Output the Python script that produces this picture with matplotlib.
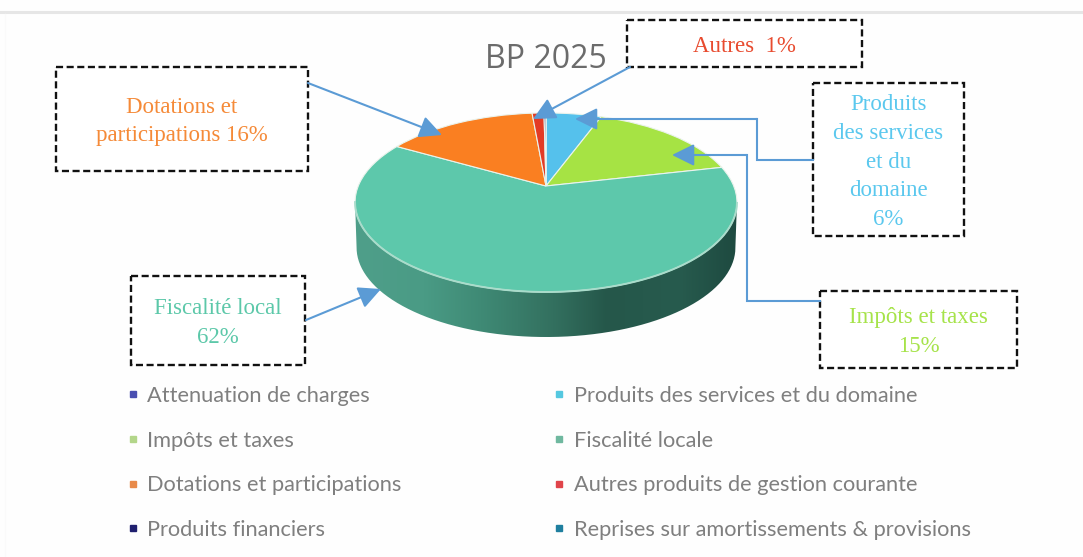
import numpy as np
import matplotlib
matplotlib.use("Agg")
import matplotlib.pyplot as plt
from matplotlib.colors import LinearSegmentedColormap
from matplotlib.lines import Line2D
from matplotlib.patches import PathPatch, Rectangle
from matplotlib.path import Path
from matplotlib.transforms import Transform

# ---- data -------------------------------------------------------------
categories = ["Attenuation de charges", "Produits des services et du domaine",
              "Impôts et taxes", "Fiscalité locale", "Dotations et participations",
              "Autres produits de gestion courante", "Produits financiers",
              "Reprises sur amortissements & provisions"]
values = [0.0, 5.6, 15.8, 61.9, 15.3, 1.2, 0.2, 0.0]
wedge_colors = ["#4A4FB0", "#55C1EC", "#A6E344", "#5DC8AB", "#FA7F21", "#E33B25", "#1F1F6E", "#1F7F9F"]
legend_colors = ["#4A4FB0", "#55C8E0", "#B3D68A", "#6FB89F", "#E88A4A", "#E0444A", "#1F1F6E", "#1F7F9F"]
title = "BP 2025"
callouts = [
    ("Dotations et\nparticipations 16%", (56, 67, 308, 171), "#F58A38", [(308, 83), (442, 135)]),
    ("Autres  1%", (627, 20, 862, 67), "#E84B2F", [(630, 67), (533, 119)]),
    ("Produits\ndes services\net du\ndomaine\n6%", (813, 83, 964, 236), "#5BC8EE",
     [(813, 160), (757, 160), (757, 119), (575, 119)]),
    ("Impôts et taxes\n15%", (820, 291, 1017, 368), "#A6E34A",
     [(820, 301), (746.5, 301), (746.5, 155), (672, 155)]),
    ("Fiscalité local\n62%", (131, 276, 305, 365), "#5CC8A9", [(306, 320), (381, 289)]),
]

W, H = 1083, 557
fig = plt.figure(figsize=(W / 100, H / 100), dpi=100, facecolor="#FEFEFE")
ax = fig.add_axes([0, 0, 1, 1])


def set_pixel_view():
    ax.set_aspect("auto")
    ax.set_xlim(0, W)
    ax.set_ylim(H, 0)
    ax.axis("off")


class Perspective(Transform):
    """Tilted-disc projection of the unit-circle pie into the pixel-like view."""
    input_dims = output_dims = 2
    is_affine = False
    has_inverse = False
    cx, cy, A, B, k = 546.0, 186.0, 86.5, 187.7, 0.184

    def transform_non_affine(self, values):
        v = np.asarray(values, dtype=float)
        w = 1 + self.k * v[:, 1]
        return np.column_stack([self.cx + self.B * v[:, 0] / w, self.cy - self.A * v[:, 1] / w])


persp = Perspective()
wedges, _ = ax.pie(values, colors=wedge_colors, startangle=90, counterclock=False, radius=1,
                   wedgeprops=dict(edgecolor="#EAF3EC", linewidth=0.8))
set_pixel_view()
for w in wedges:
    w.set_transform(persp + ax.transData)
    w.set_zorder(3)

# side wall: front part of the rim of the largest wedge, swept downwards
teal = wedges[categories.index("Fiscalité locale")]
th = np.radians(np.linspace(teal.theta1, teal.theta2, 300))
rim = persp.transform_non_affine(np.column_stack([np.cos(th), np.sin(th)]))
a, b = sorted((int(np.argmax(rim[:, 0])), int(np.argmin(rim[:, 0]))))
front = rim[a:b + 1]
depth = 45
low = front.copy()
low[:, 0] = persp.cx + (low[:, 0] - persp.cx) * 0.992
low[:, 1] += depth
wall = np.vstack([front, low[::-1], front[:1]])
cmap = LinearSegmentedColormap.from_list("wall", [
    (0.00, "#4F9F8A"), (0.18, "#4A9B85"), (0.33, "#3F8A75"), (0.52, "#33705F"),
    (0.66, "#25574A"), (0.85, "#275B4E"), (1.00, "#1E4A40")])
im = ax.imshow(np.linspace(0, 1, 256)[None, :], cmap=cmap, aspect="auto", zorder=2,
               extent=[wall[:, 0].min(), wall[:, 0].max(), wall[:, 1].max(), wall[:, 1].min()])
im.set_clip_path(PathPatch(Path(wall), transform=ax.transData))
set_pixel_view()
ax.plot(front[:, 0], front[:, 1], color="#A9DCCB", lw=1.4, zorder=4)

# frame rule at the top
ax.plot([0, W], [12, 12], color="#E6E6E6", lw=2.2, zorder=1)
ax.plot([5, 5], [14, H], color="#FAFAFA", lw=1, zorder=1)

# title
ax.text(546, 59, title, ha="center", va="center", fontsize=23, color="#6B6B6B",
        family="Open Sans", zorder=6)

# callouts
for text, (x0, y0, x1, y1), color, route in callouts:
    ax.add_patch(Rectangle((x0, y0), x1 - x0, y1 - y0, fc="#FFFFFF", ec="#111111", lw=1.7,
                           ls=(0, (3.0, 1.5)), zorder=5))
    ax.text((x0 + x1) / 2, (y0 + y1) / 2 + 2.5, text, ha="center", va="center", color=color,
            family="Liberation Serif", fontsize=16.5, linespacing=1.47, zorder=6)
    pts = np.array(route)
    if len(pts) > 2:
        ax.plot(pts[:-1, 0], pts[:-1, 1], color="#5B9BD5", lw=1.5, zorder=6,
                solid_joinstyle="miter")
    ax.annotate("", xy=pts[-1], xytext=pts[-2], zorder=7,
                arrowprops=dict(arrowstyle="-|>,head_length=0.85,head_width=0.42", color="#5B9BD5",
                                lw=1.5, mutation_scale=16, shrinkA=0, shrinkB=0))

# legend
handles = [Line2D([], [], ls="none", marker="s", ms=4.6, mfc=c, mec=c) for c in legend_colors]
order = [0, 2, 4, 6, 1, 3, 5, 7]
fig.legend([handles[i] for i in order], [categories[i] for i in order], ncol=2, frameon=False,
           loc="upper left", bbox_to_anchor=(127 / W, 1 - 386 / H), borderaxespad=0, borderpad=0,
           prop=dict(family="Lato", size=15.7), labelcolor="#7F7F7F", handlelength=0.54,
           handletextpad=0.4, labelspacing=1.13, columnspacing=6.95)

fig.savefig("out.png", dpi=100, facecolor=fig.get_facecolor())
